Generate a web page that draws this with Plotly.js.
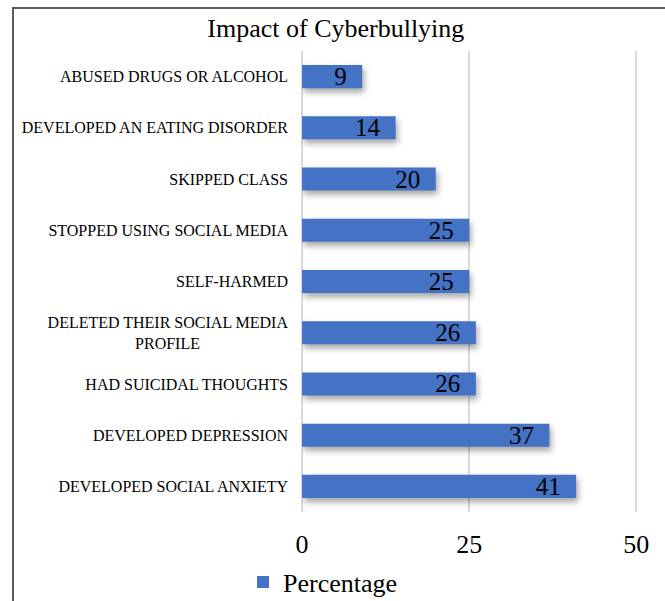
<!DOCTYPE html>
<html>
<head>
<meta charset="utf-8">
<script src="https://cdn.plot.ly/plotly-3.0.1.min.js"></script>
<style>
  html, body { margin: 0; padding: 0; background: #fff; }
  #wrap { position: relative; width: 665px; height: 601px; overflow: hidden; }
  #chart { position: absolute; left: 0; top: 0; width: 665px; height: 601px; }
  #frame { position: absolute; left: 12px; top: 7px; width: 800px; height: 800px;
           border-left: 2px solid #5a5a5a; border-top: 2px solid #5a5a5a; pointer-events: none; }
  #chart .bars path { filter: drop-shadow(2px 4px 3px rgba(0,0,0,0.35)); }
</style>
</head>
<body>
<div id="wrap">
  <div id="chart"></div>
  <div id="frame"></div>
</div>
<script>
// Data (listed bottom to top as Plotly draws category axes)
const categories = [
  "DEVELOPED SOCIAL ANXIETY",
  "DEVELOPED DEPRESSION",
  "HAD SUICIDAL THOUGHTS",
  "DELETED THEIR SOCIAL MEDIA PROFILE",
  "SELF-HARMED",
  "STOPPED USING SOCIAL MEDIA",
  "SKIPPED CLASS",
  "DEVELOPED AN EATING DISORDER",
  "ABUSED DRUGS OR ALCOHOL"
];
const percentages = [41, 37, 26, 26, 25, 25, 20, 14, 9];
const tickLabels = [
  "DEVELOPED SOCIAL ANXIETY",
  "DEVELOPED DEPRESSION",
  "HAD SUICIDAL THOUGHTS",
  "DELETED THEIR SOCIAL MEDIA<br>PROFILE" + "\u00a0".repeat(22),
  "SELF-HARMED",
  "STOPPED USING SOCIAL MEDIA",
  "SKIPPED CLASS",
  "DEVELOPED AN EATING DISORDER",
  "ABUSED DRUGS OR ALCOHOL"
];
const xTicks = [0, 25, 50];
const seriesName = "Percentage";

const serif = "'Liberation Serif', 'Times New Roman', serif";

const trace = {
  type: "bar",
  orientation: "h",
  name: seriesName,
  y: categories,
  x: percentages,
  marker: { color: "#4472C4", line: { width: 0 } },
  texttemplate: "%{x}\u00a0\u00a0",
  textposition: "inside",
  insidetextanchor: "end",
  textangle: 0,
  insidetextfont: { family: serif, size: 25, color: "#000" },
  constraintext: "none",
  hoverinfo: "skip"
};

const layout = {
  width: 665,
  height: 601,
  paper_bgcolor: "#fff",
  plot_bgcolor: "#fff",
  font: { family: serif, color: "#000" },
  margin: { l: 302, r: 22.3, t: 51, b: 89, pad: 0 },
  title: {
    text: "Impact of Cyberbullying",
    font: { family: serif, size: 26, color: "#000" },
    x: 0.505, xanchor: "center", xref: "container",
    y: 1 - 28 / 601, yanchor: "middle", yref: "container"
  },
  bargap: 0.55,
  xaxis: {
    range: [0, 51],
    tickvals: xTicks,
    ticktext: xTicks.map(String),
    ticks: "",
    showgrid: true,
    gridcolor: "#d9d9d9",
    gridwidth: 2,
    zeroline: true,
    zerolinecolor: "#d9d9d9",
    zerolinewidth: 2,
    showline: false,
    tickfont: { family: serif, size: 26, color: "#000" },
    ticklabelstandoff: 14,
    fixedrange: true
  },
  yaxis: {
    type: "category",
    tickvals: categories,
    ticktext: tickLabels,
    ticks: "",
    showgrid: false,
    zeroline: false,
    showline: false,
    tickfont: { family: serif, size: 16, color: "#000" },
    ticklabelstandoff: 13,
    fixedrange: true
  },
  showlegend: true,
  legend: {
    orientation: "h",
    xref: "container", yref: "container",
    x: 243 / 665, xanchor: "left",
    y: 1 - 582 / 601, yanchor: "middle",
    font: { family: serif, size: 26, color: "#000" },
    bgcolor: "rgba(0,0,0,0)",
    borderwidth: 0
  }
};

Plotly.newPlot("chart", [trace], layout, { staticPlot: true, displayModeBar: false });
</script>
</body>
</html>
